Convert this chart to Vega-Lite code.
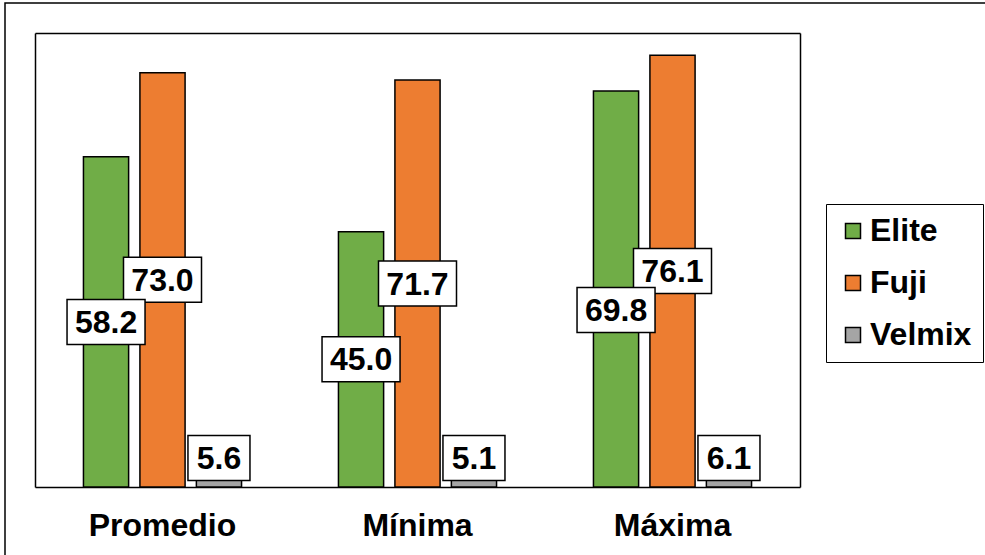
{
  "$schema": "https://vega.github.io/schema/vega-lite/v6.json",
  "width": 983,
  "height": 555,
  "autosize": {"type": "none"},
  "padding": {"left": 5, "top": 3, "right": -3, "bottom": -3},
  "background": "white",
  "config": {
    "view": {"stroke": "black", "strokeWidth": 1.5},
    "font": "Liberation Sans"
  },
  "data": {
    "values": [
      {"cat": "Promedio", "series": "Elite", "value": 58.2},
      {"cat": "Promedio", "series": "Fuji", "value": 73.0},
      {"cat": "Promedio", "series": "Velmix", "value": 5.6},
      {"cat": "Mínima", "series": "Elite", "value": 45.0},
      {"cat": "Mínima", "series": "Fuji", "value": 71.7},
      {"cat": "Mínima", "series": "Velmix", "value": 5.1},
      {"cat": "Máxima", "series": "Elite", "value": 69.8},
      {"cat": "Máxima", "series": "Fuji", "value": 76.1},
      {"cat": "Máxima", "series": "Velmix", "value": 6.1}
    ]
  },
  "layer": [
    {
      "mark": {"type": "bar", "opacity": 0},
      "encoding": {
        "x": {"field": "cat", "type": "nominal", "sort": ["Promedio", "Mínima", "Máxima"],
              "scale": {"range": [30, 795], "paddingInner": 0.38, "paddingOuter": 0.19},
              "axis": {"orient": "top", "offset": -30, "labels": false, "ticks": false, "title": null,
                       "domainColor": "black", "domainWidth": 1.5}},
        "xOffset": {"field": "series", "type": "nominal", "scale": {"paddingInner": 0.2, "paddingOuter": 0}},
        "y": {"field": "value", "type": "quantitative",
              "scale": {"domain": [0, 80], "range": [484, 30], "nice": false},
              "axis": {"orient": "right", "offset": -188, "labels": false, "ticks": false, "grid": false,
                       "title": null, "domainColor": "black", "domainWidth": 1.5}}
      }
    },
    {
      "mark": {"type": "bar", "stroke": "black", "strokeWidth": 1.5},
      "encoding": {
        "x": {"field": "cat", "type": "nominal", "sort": ["Promedio", "Mínima", "Máxima"],
              "scale": {"range": [30, 795], "paddingInner": 0.38, "paddingOuter": 0.19},
              "axis": {"orient": "bottom", "offset": -71, "ticks": false, "title": null, "labelAngle": 0,
                       "labelFont": "Liberation Sans", "labelFontSize": 32, "labelFontWeight": "bold",
                       "labelColor": "black", "labelPadding": 23, "domainColor": "black", "domainWidth": 1.5}},
        "xOffset": {"field": "series", "type": "nominal", "scale": {"paddingInner": 0.2, "paddingOuter": 0}},
        "y": {"field": "value", "type": "quantitative",
              "scale": {"domain": [0, 80], "range": [484, 30], "nice": false},
              "axis": {"orient": "left", "offset": -30, "labels": false, "ticks": false, "grid": false,
                       "title": null, "domainColor": "black", "domainWidth": 1.5}},
        "color": {"field": "series", "type": "nominal",
                  "scale": {"domain": ["Elite", "Fuji", "Velmix"], "range": ["#70AD47", "#ED7D31", "#A5A5A5"]},
                  "legend": {"orient": "none", "legendX": 821, "legendY": 201, "title": null,
                             "strokeColor": "black", "padding": 11, "symbolType": "square", "symbolSize": 225,
                             "symbolStrokeColor": "black", "symbolStrokeWidth": 1.5, "symbolOpacity": 1,
                             "labelFont": "Liberation Sans", "labelFontSize": 32, "labelFontWeight": "bold",
                             "labelColor": "black", "labelOffset": 1, "rowPadding": 20}}
      }
    },
    {
      "transform": [{"filter": "datum.series != 'Elite'"}],
      "encoding": {
        "x": {"field": "cat", "type": "nominal", "sort": ["Promedio", "Mínima", "Máxima"],
              "scale": {"range": [30, 795], "paddingInner": 0.38, "paddingOuter": 0.19}, "axis": null},
        "xOffset": {"field": "series", "type": "nominal", "sort": ["Elite", "Fuji", "Velmix"],
                    "scale": {"domain": ["Elite", "Fuji", "Velmix"], "paddingInner": 0.2, "paddingOuter": 0}},
        "y": {"field": "value", "type": "quantitative",
              "scale": {"domain": [10.2, 160], "range": [455, 30], "nice": false, "zero": false, "clamp": true},
              "axis": null}
      },
      "layer": [
        {
          "mark": {"type": "point", "filled": true, "fill": "white", "stroke": "black", "strokeWidth": 1.5,
                   "opacity": 1, "fillOpacity": 1, "size": 6084},
          "encoding": {
            "shape": {"condition": {"test": "datum.value < 10", "value": "M-0.795,-0.577L0.795,-0.577L0.795,0.577L-0.795,0.577Z"},
                      "value": "M-1,-0.577L1,-0.577L1,0.577L-1,0.577Z"}
          }
        },
        {
          "mark": {"type": "text", "font": "Liberation Sans", "fontSize": 32, "fontWeight": "bold",
                   "color": "black", "baseline": "middle", "align": "center", "dy": 1},
          "encoding": {
            "text": {"field": "value", "type": "quantitative", "format": ".1f"}
          }
        }
      ]
    },
    {
      "transform": [{"filter": "datum.series == 'Elite'"}],
      "encoding": {
        "x": {"field": "cat", "type": "nominal", "sort": ["Promedio", "Mínima", "Máxima"],
              "scale": {"range": [30, 795], "paddingInner": 0.38, "paddingOuter": 0.19}, "axis": null},
        "xOffset": {"field": "series", "type": "nominal", "sort": ["Elite", "Fuji", "Velmix"],
                    "scale": {"domain": ["Elite", "Fuji", "Velmix"], "paddingInner": 0.2, "paddingOuter": 0}},
        "y": {"field": "value", "type": "quantitative",
              "scale": {"domain": [0, 62.4], "range": [484, 307], "nice": false, "zero": false, "clamp": true},
              "axis": null}
      },
      "layer": [
        {
          "mark": {"type": "point", "filled": true, "fill": "white", "stroke": "black", "strokeWidth": 1.5,
                   "opacity": 1, "fillOpacity": 1, "size": 6084,
                   "shape": "M-1,-0.577L1,-0.577L1,0.577L-1,0.577Z"}
        },
        {
          "mark": {"type": "text", "font": "Liberation Sans", "fontSize": 32, "fontWeight": "bold",
                   "color": "black", "baseline": "middle", "align": "center", "dy": 1},
          "encoding": {
            "text": {"field": "value", "type": "quantitative", "format": ".1f"}
          }
        }
      ]
    }
  ],
  "resolve": {"scale": {"y": "independent"}, "axis": {"x": "independent", "y": "independent"}}
}
